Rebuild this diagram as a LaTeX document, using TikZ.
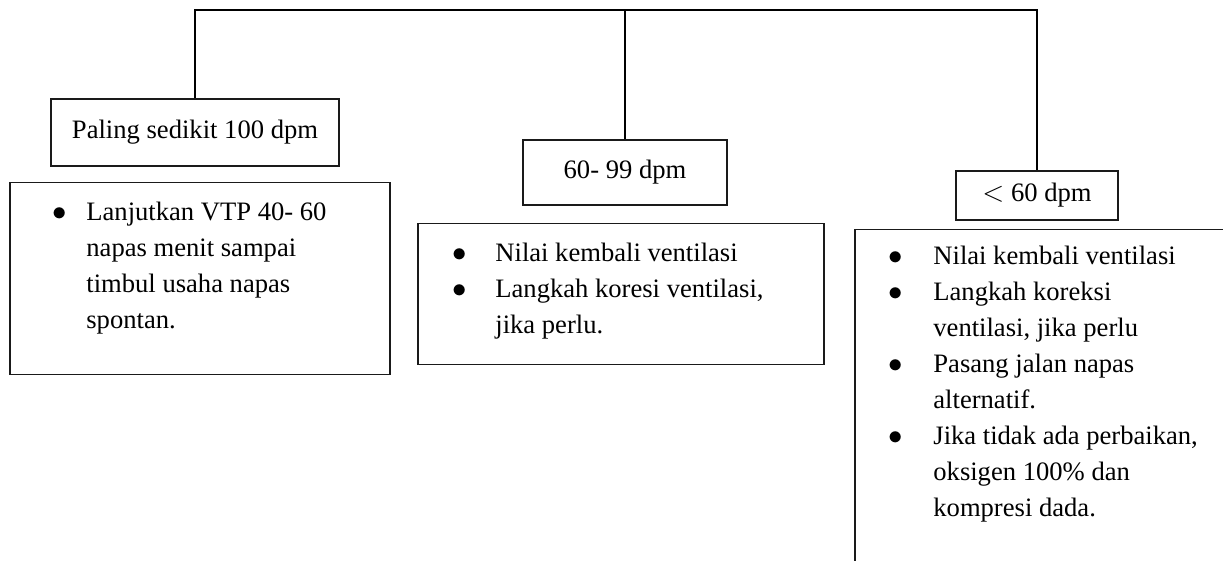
\documentclass[tikz,border=0pt]{standalone}
\usepackage{fontspec}
\setmainfont{Liberation Serif}
\usepackage{xcolor}
\definecolor{Box Line}{HTML}{1A1A1A}

\begin{document}
\begin{tikzpicture}[x=0.5pt, y=-0.5pt]

  \tikzstyle{body} = [font=\fontsize{13.3}{18}\selectfont]
  \tikzstyle{rate}=[body,rectangle,draw=Box Line,line width=0.75pt,inner sep=0pt]
  \tikzstyle{todo box}=[rectangle,draw=Box Line,line width=0.75pt,inner sep=0pt];
  \tikzstyle{todo list}=[body,anchor=north west,inner sep=0pt];
  \tikzstyle{branch}=[line width=0.9pt];
  \newcommand{\dotmark}{$\bullet$}

  % Fix the page to the size of the picture
  \useasboundingbox (0,0) rectangle (1223,561);
  \clip (0,0) rectangle (1223,561);

  % Draw the heart rate boxes
  \node[rate, minimum width=144pt, minimum height=33.5pt] (R-1) at (195,132.5) {Paling sedikit 100 dpm};
  \node[rate, minimum width=102pt, minimum height=32.5pt] (R-2) at (625,172.5) {60- 99 dpm};
  \node[rate, minimum width=81pt, minimum height=24.5pt] (R-3) at (1037,195.5) {$<$ 60 dpm};

  % Draw the boxes for what to do next
  \node[todo box, minimum width=190pt, minimum height=96pt, anchor=north west] (T-1) at (9,182) {};
  \node[todo box, minimum width=203pt, minimum height=70.5pt, anchor=north west] (T-2) at (417,223) {};
  \node[todo box, minimum width=220pt, minimum height=200pt, anchor=north west] (T-3) at (854,229) {}; % runs off the page

  % Fill in the lists
  \node[todo list] (L-1) at ([shift={(43,13)}]T-1.north west) {%
    \begin{tabular}{@{}p{17pt}@{}l@{}}
      \dotmark & Lanjutkan VTP 40- 60\\
               & napas menit sampai\\
               & timbul usaha napas\\
               & spontan.
    \end{tabular}};
  \node[todo list] (L-2) at ([shift={(35,13)}]T-2.north west) {%
    \begin{tabular}{@{}p{21.5pt}@{}l@{}}
      \dotmark & Nilai kembali ventilasi\\
      \dotmark & Langkah koresi ventilasi,\\
               & jika perlu.
    \end{tabular}};
  \node[todo list] (L-3) at ([shift={(34,10)}]T-3.north west) {%
    \begin{tabular}{@{}p{22.5pt}@{}l@{}}
      \dotmark & Nilai kembali ventilasi\\
      \dotmark & Langkah koreksi\\
               & ventilasi, jika perlu\\
      \dotmark & Pasang jalan napas\\
               & alternatif.\\
      \dotmark & Jika tidak ada perbaikan,\\
               & oksigen 100\% dan\\
               & kompresi dada.
    \end{tabular}};

  % Draw the branches over the top
  \coordinate (bar) at (0,10);
  \draw[branch] (R-1.north) -- (R-1.north |- bar) -| (R-3.north);
  \draw[branch] (R-2.north) -- (R-2.north |- bar);

\end{tikzpicture}
\end{document}
